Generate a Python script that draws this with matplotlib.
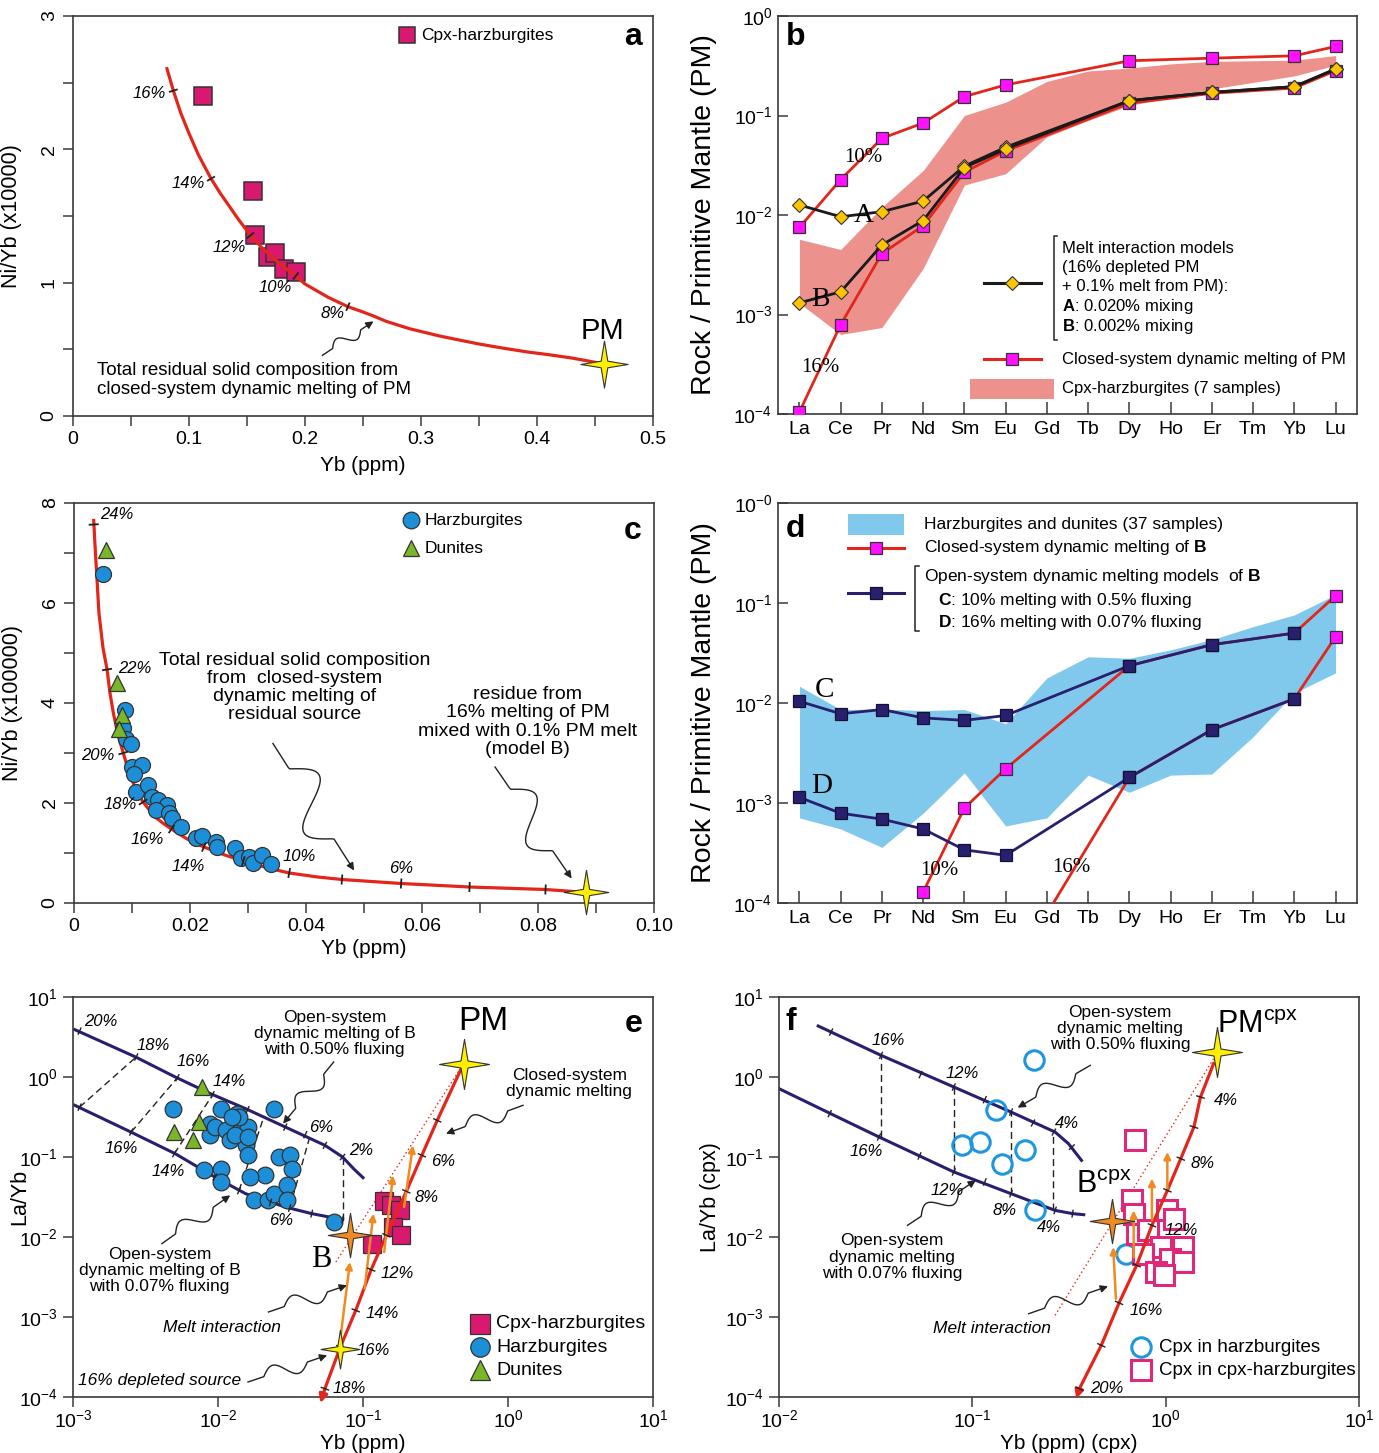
import numpy as np
import matplotlib
matplotlib.use('Agg')
import matplotlib.pyplot as plt
from matplotlib.patches import Rectangle

plt.rcParams['font.family'] = ['Liberation Sans', 'DejaVu Sans']
plt.rcParams['mathtext.fontset'] = 'custom'
plt.rcParams['mathtext.rm'] = 'Liberation Sans'
plt.rcParams['mathtext.it'] = 'Liberation Sans:italic'
plt.rcParams['mathtext.bf'] = 'Liberation Sans:bold'
SERIF = ['Liberation Serif', 'DejaVu Serif']

# ---------------- data ----------------
# panel a : Ni/Yb (x10000) vs Yb
a_curve_yb = [0.081, 0.0865, 0.093, 0.10, 0.108, 0.119, 0.127, 0.135, 0.143, 0.153, 0.162, 0.17, 0.18, 0.192,
              0.20, 0.21, 0.22, 0.237, 0.25, 0.259, 0.27, 0.29, 0.316, 0.33, 0.35, 0.37, 0.392, 0.41, 0.43, 0.458]
a_curve_niyb = [2.605, 2.44, 2.27, 2.12, 1.96, 1.78, 1.67, 1.57, 1.47, 1.355, 1.27, 1.205, 1.13, 1.05,
                0.99, 0.94, 0.89, 0.82, 0.78, 0.75, 0.71, 0.655, 0.60, 0.575, 0.54, 0.51, 0.48, 0.46, 0.435, 0.39]
a_tick_yb = [0.0865, 0.119, 0.153, 0.192, 0.237]
a_tick_niyb = [2.44, 1.78, 1.355, 1.05, 0.82]
a_tick_lab = ['16%', '14%', '12%', '10%', '8%']
a_lab_yb = [0.066, 0.099, 0.135, 0.174, 0.224]
a_lab_niyb = [2.42, 1.74, 1.26, 0.96, 0.77]
a_cpx_yb = [0.112, 0.155, 0.157, 0.168, 0.174, 0.182, 0.192]
a_cpx_niyb = [2.40, 1.69, 1.355, 1.19, 1.225, 1.105, 1.08]
a_pm = (0.458, 0.39)

# panel b : REE patterns
REE = ['La', 'Ce', 'Pr', 'Nd', 'Sm', 'Eu', 'Gd', 'Tb', 'Dy', 'Ho', 'Er', 'Tm', 'Yb', 'Lu']
b_elems = ['La', 'Ce', 'Pr', 'Nd', 'Sm', 'Eu', 'Dy', 'Er', 'Yb', 'Lu']
b_closed10 = [7.5e-3, 2.27e-2, 5.9e-2, 8.4e-2, 0.155, 0.203, 0.355, 0.377, 0.398, 0.494]
b_closed16 = [1.05e-4, 7.9e-4, 4.1e-3, 7.8e-3, 2.7e-2, 4.4e-2, 0.133, 0.167, 0.189, 0.282]
b_modelA = [1.26e-2, 9.6e-3, 1.08e-2, 1.38e-2, 3.1e-2, 4.8e-2, 0.141, 0.171, 0.195, 0.293]
b_modelB = [1.31e-3, 1.69e-3, 5.0e-3, 8.8e-3, 3.0e-2, 4.6e-2, 0.141, 0.171, 0.195, 0.293]
b_band_hi = [5.7e-3, 4.5e-3, 1.2e-2, 2.8e-2, 0.10, 0.136, 0.22, 0.28, 0.30, 0.33, 0.35, 0.355, 0.36, 0.40]
b_band_lo = [1.3e-3, 6.3e-4, 7.4e-4, 2.9e-3, 2.0e-2, 2.6e-2, 6.1e-2, 8.9e-2, 0.126, 0.152, 0.185, 0.215, 0.25, 0.32]

# panel c : Ni/Yb (x100000) vs Yb
c_curve_yb = [0.0034, 0.0036, 0.0039, 0.0043, 0.0050, 0.0057, 0.0062, 0.0068, 0.0076, 0.0085, 0.0092, 0.010,
              0.0109, 0.0119, 0.013, 0.014, 0.0153, 0.0168, 0.0195, 0.0224, 0.026, 0.0297, 0.0335, 0.0371,
              0.042, 0.0462, 0.0564, 0.0682, 0.0813, 0.0885]
c_curve_niyb = [7.65, 7.2, 6.6, 5.8, 5.1, 4.67, 4.2, 3.79, 3.35, 3.0, 2.72, 2.46, 2.22, 2.02, 1.86, 1.72,
                1.60, 1.48, 1.28, 1.12, 0.96, 0.82, 0.70, 0.60, 0.52, 0.47, 0.39, 0.32, 0.27, 0.21]
c_tick_yb = [0.0034, 0.0057, 0.0085, 0.0119, 0.0168, 0.0224, 0.0292, 0.0371, 0.0462, 0.0564, 0.0682, 0.0813]
c_tick_niyb = [7.57, 4.67, 3.0, 2.02, 1.48, 1.12, 0.84, 0.60, 0.47, 0.39, 0.32, 0.27]
c_lab = ['24%', '22%', '20%', '18%', '16%', '14%', '10%', '6%']
c_lab_yb = [0.0074, 0.0104, 0.0041, 0.0079, 0.0127, 0.0197, 0.0388, 0.0564]
c_lab_niyb = [7.77, 4.69, 2.96, 1.96, 1.26, 0.73, 0.92, 0.69]
c_harz_yb = [0.00508, 0.00872, 0.00849, 0.00895, 0.00986, 0.0100, 0.01168, 0.01039, 0.01077, 0.01281, 0.01342,
             0.01456, 0.01607, 0.01418, 0.0163, 0.01683, 0.0185, 0.0210, 0.0221, 0.02456, 0.02464, 0.02782,
             0.02881, 0.0301, 0.03086, 0.03237, 0.03404]
c_harz_niyb = [6.58, 3.86, 3.49, 3.29, 3.19, 2.72, 2.76, 2.59, 2.21, 2.36, 2.12, 2.06, 1.96, 1.86, 1.79, 1.69,
               1.52, 1.29, 1.34, 1.22, 1.12, 1.09, 0.89, 0.92, 0.80, 0.95, 0.77]
c_dun_yb = [0.00546, 0.00743, 0.00826, 0.00773]
c_dun_niyb = [7.07, 4.41, 3.76, 3.47]
c_b = (0.0883, 0.21)

# panel d : REE patterns
d_band_hi = [1.47e-2, 8.6e-3, 8.7e-3, 8.4e-3, 8.6e-3, 6.2e-3, 1.78e-2, 2.9e-2, 2.8e-2, 3.4e-2, 4.3e-2, 5.8e-2, 7.6e-2, 0.121]
d_band_lo = [7.1e-4, 5.5e-4, 3.6e-4, 7.9e-4, 2.0e-3, 5.9e-4, 7.1e-4, 1.9e-3, 1.28e-3, 1.9e-3, 1.95e-3, 4.6e-3, 1.26e-2, 2.0e-2]
d_model_el = ['La', 'Ce', 'Pr', 'Nd', 'Sm', 'Eu', 'Dy', 'Er', 'Yb']
d_modelC = [1.04e-2, 7.8e-3, 8.6e-3, 7.1e-3, 6.7e-3, 7.5e-3, 2.36e-2, 3.83e-2, 5.0e-2]
d_modelD = [1.14e-3, 7.9e-4, 6.9e-4, 5.5e-4, 3.4e-4, 3.0e-4, 1.8e-3, 5.4e-3, 1.1e-2]
d_c10_el = ['Nd', 'Sm', 'Eu', 'Dy', 'Er', 'Yb', 'Lu']
d_closed10 = [1.29e-4, 8.9e-4, 2.2e-3, 2.36e-2, 3.83e-2, 5.0e-2, 0.118]
d_c16_el = ['Gd', 'Dy', 'Er', 'Yb', 'Lu']
d_closed16 = [7.8e-5, 1.8e-3, 5.4e-3, 1.1e-2, 4.6e-2]

# panel e : La/Yb vs Yb (whole rock)
e_open50_yb = [0.001028, 0.0027, 0.00507, 0.00887, 0.0155, 0.0291, 0.0546, 0.0723, 0.0861, 0.1]
e_open50_layb = [3.91, 1.78, 1.0, 0.619, 0.402, 0.237, 0.14, 0.1, 0.0714, 0.0552]
e_open07_yb = [0.001028, 0.00251, 0.00507, 0.0095, 0.0155, 0.0291, 0.0443, 0.0723]
e_open07_layb = [0.443, 0.205, 0.110, 0.0562, 0.0348, 0.0237, 0.0196, 0.0165]
e_t50_yb = [0.00111, 0.00273, 0.00525, 0.00918, 0.0160, 0.0291, 0.0400, 0.0546, 0.0723]
e_t50_layb = [3.75, 1.78, 0.98, 0.60, 0.39, 0.237, 0.19, 0.14, 0.10]
e_t07_yb = [0.00111, 0.00252, 0.0050, 0.0095, 0.01396, 0.0230, 0.0312, 0.0443, 0.0723]
e_t07_layb = [0.42, 0.205, 0.11, 0.0562, 0.038, 0.027, 0.0230, 0.0196, 0.0165]
e_dash_yb0 = [0.00111, 0.00252, 0.0050, 0.01396, 0.0312, 0.0723]
e_dash_la0 = [0.42, 0.205, 0.11, 0.038, 0.0230, 0.0165]
e_dash_yb1 = [0.00273, 0.00525, 0.00918, 0.0205, 0.0428, 0.0723]
e_dash_la1 = [1.78, 0.98, 0.60, 0.30, 0.175, 0.10]
e_closed_yb = [0.494, 0.325, 0.2547, 0.199, 0.145, 0.1138, 0.0891, 0.0698, 0.0546, 0.0509]
e_closed_layb = [1.47, 0.287, 0.105, 0.0372, 0.0105, 0.00391, 0.00121, 4.22e-4, 1.27e-4, 8.4e-5]
e_mix_yb = [0.065, 0.461]
e_mix_layb = [0.00487, 1.21]
e_arr_yb0 = [0.0698, 0.1026, 0.140, 0.192]
e_arr_la0 = [5.37e-4, 2.26e-3, 6.5e-3, 0.0237]
e_arr_yb1 = [0.0813, 0.118, 0.161, 0.221]
e_arr_la1 = [4.87e-3, 0.0196, 0.059, 0.140]
e_harz_yb = [0.00489, 0.00887, 0.00875, 0.01055, 0.0095, 0.01132, 0.01214, 0.01349, 0.01445, 0.01606, 0.01552,
             0.01606, 0.02444, 0.02619, 0.03119, 0.03233, 0.02124, 0.01664, 0.00798, 0.01055, 0.01055,
             0.01783, 0.02198, 0.02444, 0.03013, 0.03013, 0.06281, 0.01396, 0.01256, 0.0130, 0.0160]
e_harz_layb = [0.402, 0.261, 0.187, 0.402, 0.237, 0.216, 0.162, 0.348, 0.220, 0.237, 0.140, 0.105, 0.402, 0.1,
               0.105, 0.0715, 0.059, 0.0562, 0.0681, 0.0715, 0.0487, 0.0287, 0.0287, 0.0348, 0.0442, 0.0287,
               0.0154, 0.316, 0.316, 0.190, 0.178]
e_dun_yb = [0.00781, 0.00745, 0.0050, 0.0067]
e_dun_layb = [0.75, 0.274, 0.205, 0.162]
e_cpx_yb = [0.116, 0.140, 0.156, 0.179, 0.161, 0.182]
e_cpx_layb = [0.0081, 0.0279, 0.0253, 0.0215, 0.0133, 0.0105]
e_pm = (0.494, 1.47)
e_b = (0.0813, 0.0105)
e_dep = (0.0698, 4.0e-4)

# panel f : La/Yb vs Yb (cpx)
f_open50_yb = [0.01595, 0.0337, 0.0802, 0.1585, 0.268, 0.314, 0.367]
f_open50_layb = [4.34, 1.866, 0.75, 0.365, 0.205, 0.147, 0.0908]
f_open07_yb = [0.01, 0.0185, 0.0329, 0.0802, 0.1585, 0.268, 0.330, 0.377]
f_open07_layb = [0.715, 0.348, 0.178, 0.065, 0.0348, 0.0215, 0.0196, 0.0190]
f_t50_yb = [0.0186, 0.0337, 0.054, 0.0802, 0.116, 0.1585, 0.206, 0.264, 0.327]
f_t50_layb = [3.65, 1.866, 1.07, 0.75, 0.521, 0.365, 0.266, 0.205, 0.133]
f_t07_yb = [0.0183, 0.0329, 0.0533, 0.0802, 0.116, 0.1585, 0.268, 0.330]
f_t07_layb = [0.348, 0.178, 0.103, 0.065, 0.0487, 0.0348, 0.0215, 0.0196]
f_dash_yb = [0.0337, 0.0802, 0.1585, 0.262]
f_dash_lo = [0.178, 0.065, 0.0348, 0.0215]
f_dash_hi = [1.866, 0.75, 0.365, 0.205]
f_closed_yb = [1.77, 1.514, 1.40, 1.197, 1.021, 0.849, 0.708, 0.574, 0.4645, 0.358, 0.345]
f_closed_layb = [1.47, 0.562, 0.237, 0.0953, 0.0383, 0.0140, 0.00443, 0.0015, 4.43e-4, 1.27e-4, 9.5e-5]
f_mix_yb = [0.268, 1.77]
f_mix_layb = [1.05e-3, 1.69]
f_arr_yb0 = [0.553, 0.683, 0.849, 1.02]
f_arr_la0 = [1.69e-3, 5.6e-3, 0.0162, 0.0402]
f_arr_yb1 = [0.535, 0.683, 0.849, 1.02]
f_arr_la1 = [7.5e-3, 0.0215, 0.0536, 0.1155]
f_harz_yb = [0.2086, 0.132, 0.0881, 0.110, 0.1875, 0.143, 0.212, 0.621]
f_harz_layb = [1.61, 0.383, 0.14, 0.154, 0.1235, 0.0825, 0.022, 0.00619]
f_cpxh_yb = [0.697, 0.672, 0.689, 1.02, 1.105, 0.708, 0.807, 0.944, 1.23, 0.766, 1.05, 1.23, 0.896, 0.984]
f_cpxh_layb = [0.161, 0.0287, 0.0196, 0.0215, 0.0169, 0.011, 0.0121, 0.0075, 0.0075, 0.00619, 0.00536,
               0.00487, 0.00365, 0.00332]
f_pm = (1.85, 2.05)
f_b = (0.529, 0.0158)

# ---------------- style ----------------
RED = '#e3261c'
PINK = '#d8196f'
BLUE = '#1d8fd8'
GREEN = '#7ab62a'
NAVY = '#28206f'
MAG = '#ff10ff'
GOLD = '#ffc400'
ORANGE = '#f08a22'
YEL = '#fff000'
EDGE = '#333333'
STAR = [(0, 1), (0.14, 0.14), (1, 0), (0.14, -0.14), (0, -1), (-0.14, -0.14), (-1, 0), (-0.14, 0.14), (0, 1)]

W, H = 1379, 1453
fig = plt.figure(figsize=(W / 100, H / 100), dpi=100)


def panel(l, t, r, b):
    return fig.add_axes([l / W, 1 - b / H, (r - l) / W, (b - t) / H])


def style(ax, direction='out'):
    for s in ax.spines.values():
        s.set_color('#3a3a3a')
        s.set_linewidth(1.2)
    ax.tick_params(which='both', direction=direction, length=7, width=1.1, color='#3a3a3a', labelsize=14, pad=4)


def curve_ticks(ax, cx, cy, tx, ty, size=9, lw=1.3):
    P = ax.transData.transform(np.column_stack([cx, cy]))
    inv = ax.transData.inverted()
    for x, y in zip(tx, ty):
        p = ax.transData.transform((x, y))
        i = int(np.argmin(np.hypot(*(P - p).T)))
        v = P[min(i + 1, len(P) - 1)] - P[max(i - 1, 0)]
        v = v / np.hypot(*v)
        n = np.array([-v[1], v[0]]) * size / 2
        seg = inv.transform([p - n, p + n])
        ax.plot(seg[:, 0], seg[:, 1], color='#222222', lw=lw, zorder=6, solid_capstyle='butt')


def squiggle(ax, start, end, amp=9, lw=1.0):
    p0 = ax.transData.transform(start)
    p1 = ax.transData.transform(end)
    d = p1 - p0
    u = d / np.hypot(*d)
    n = np.array([-u[1], u[0]])
    t = np.linspace(0, 1, 90)
    env = np.clip((t - 0.2) / 0.55, 0, 1)
    off = amp * np.sin(2 * np.pi * env)
    pts = p0[None, :] + t[:, None] * d[None, :] + off[:, None] * n[None, :]
    dat = ax.transData.inverted().transform(pts)
    ax.plot(dat[:-4, 0], dat[:-4, 1], color='#222222', lw=lw, clip_on=False, zorder=7)
    ax.annotate('', xy=dat[-1], xytext=dat[-5], annotation_clip=False, zorder=7,
                arrowprops=dict(arrowstyle='-|>', color='#222222', lw=lw, mutation_scale=11, shrinkA=0, shrinkB=0))


def log_labels(ax, lo, hi, axis='y', top_zero=False):
    vals = [10.0 ** k for k in range(lo, hi + 1)]
    labs = [r'$10^{%d}$' % k for k in range(lo, hi + 1)]
    if top_zero:
        labs[-1] = r'$10^{-0}$'
    if axis == 'y':
        ax.set_yticks(vals)
        ax.set_yticklabels(labs)
        ax.yaxis.set_minor_locator(plt.NullLocator())
    else:
        ax.set_xticks(vals)
        ax.set_xticklabels(labs)
        ax.xaxis.set_minor_locator(plt.NullLocator())


def pct(ax, x, y, s, size=12, ha='center'):
    ax.text(x, y, s, fontsize=size, style='italic', ha=ha, va='center', zorder=8)


def letter(ax, x, y, s):
    ax.text(x, y, s, transform=ax.transAxes, fontsize=23, fontweight='bold', ha='center', va='center')


# ================= panel a =================
axA = panel(73, 16, 653, 416)
style(axA)
axA.set_xlim(0, 0.5)
axA.set_ylim(0, 3)
axA.set_xticks([0, 0.1, 0.2, 0.3, 0.4, 0.5])
axA.set_xticklabels(['0', '0.1', '0.2', '0.3', '0.4', '0.5'])
axA.set_xticks([0.05, 0.15, 0.25, 0.35, 0.45], minor=True)
axA.set_yticks([0, 1, 2, 3])
axA.set_yticks([0.5, 1.5, 2.5], minor=True)
for lab in axA.get_yticklabels():
    lab.set_rotation(90)
    lab.set_va('center')
axA.set_xlabel('Yb (ppm)', fontsize=15)
axA.xaxis.set_label_coords(0.5, -0.1)
axA.set_ylabel('Ni/Yb (x10000)', fontsize=15.5)
axA.yaxis.set_label_coords(-0.088, 0.5)
axA.plot(a_cpx_yb, a_cpx_niyb, 's', ms=13, mfc=PINK, mec=EDGE, mew=1.1, zorder=3)
axA.plot(a_curve_yb, a_curve_niyb, color=RED, lw=2.3, zorder=4)
curve_ticks(axA, a_curve_yb, a_curve_niyb, a_tick_yb, a_tick_niyb)
for x, y, s in zip(a_lab_yb, a_lab_niyb, a_tick_lab):
    pct(axA, x, y, s)
axA.plot(*a_pm, marker=STAR, ms=34, mfc=YEL, mec=EDGE, mew=0.8, zorder=5)
axA.text(0.456, 0.64, 'PM', fontsize=21, ha='center', va='center')
axA.text(0.021, 0.27, 'Total residual solid composition from\nclosed-system dynamic melting of PM',
         fontsize=13.5, ha='left', va='center', linespacing=1.15)
squiggle(axA, (0.215, 0.455), (0.259, 0.71), amp=6)
axA.plot([0.575], [0.952], 's', transform=axA.transAxes, ms=12, mfc=PINK, mec=EDGE, mew=1.1)
axA.text(0.600, 0.952, 'Cpx-harzburgites', transform=axA.transAxes, fontsize=12.5, va='center')
letter(axA, 0.966, 0.948, 'a')

# ================= panel b =================
axB = panel(778, 16, 1357, 414)
style(axB, 'in')
axB.set_yscale('log')
axB.set_ylim(1e-4, 1)
axB.set_xlim(-0.52, 13.52)
axB.set_xticks(range(len(REE)))
axB.set_xticklabels(REE)
log_labels(axB, -4, 0)
axB.tick_params(axis='x', length=9, pad=5, labelsize=14)
axB.set_ylabel('Rock / Primitive Mantle (PM)', fontsize=20.5)
axB.yaxis.set_label_coords(-0.105, 0.5)
xb = [REE.index(e) for e in b_elems]
axB.fill_between(range(len(REE)), b_band_lo, b_band_hi, color='#ec918c', lw=0, zorder=1)
for vals in (b_closed10, b_closed16):
    axB.plot(xb, vals, color=RED, lw=2, marker='s', ms=9, mfc=MAG, mec=EDGE, mew=0.9, zorder=3)
for vals in (b_modelA, b_modelB):
    axB.plot(xb, vals, color='#1a1a1a', lw=2, marker='D', ms=7, mfc=GOLD, mec=EDGE, mew=0.8, zorder=4)
axB.text(1.56, 10 ** -1.42, '10%', family=SERIF, fontsize=15, ha='center', va='center')
axB.text(0.5, 10 ** -3.53, '16%', family=SERIF, fontsize=15, ha='center', va='center')
axB.text(1.55, 10 ** -2.0, 'A', family=SERIF, fontsize=20, ha='center', va='center', zorder=5)
axB.text(0.5, 10 ** -2.85, 'B', family=SERIF, fontsize=20, ha='center', va='center', zorder=5)
# legend
T = axB.transAxes
axB.plot([0.356, 0.455], [0.329, 0.329], color='#1a1a1a', lw=2.2, transform=T)
axB.plot([0.405], [0.329], 'D', ms=7, mfc=GOLD, mec=EDGE, mew=0.8, transform=T)
axB.plot([0.482, 0.476, 0.476, 0.482], [0.446, 0.446, 0.186, 0.186], color='#222222', lw=1.1, transform=T)
for y, s in zip([0.417, 0.369, 0.321, 0.270, 0.219],
                ['Melt interaction models', '(16% depleted PM', '+ 0.1% melt from PM):',
                 r'$\mathbf{A}$: 0.020% mixing', r'$\mathbf{B}$: 0.002% mixing']):
    axB.text(0.491, y, s, transform=T, fontsize=12, va='center')
axB.plot([0.356, 0.455], [0.1375, 0.1375], color=RED, lw=2.2, transform=T)
axB.plot([0.405], [0.1375], 's', ms=9, mfc=MAG, mec=EDGE, mew=0.9, transform=T)
axB.text(0.491, 0.1375, 'Closed-system dynamic melting of PM', transform=T, fontsize=12, va='center')
axB.add_patch(Rectangle((0.331, 0.0375), 0.146, 0.05, transform=T, color='#ec918c', lw=0))
axB.text(0.491, 0.064, 'Cpx-harzburgites (7 samples)', transform=T, fontsize=12, va='center')
letter(axB, 0.03, 0.946, 'b')

# ================= panel c =================
axC = panel(74, 503, 654, 903)
style(axC)
axC.set_xlim(0, 0.1)
axC.set_ylim(0, 8)
axC.set_xticks([0, 0.02, 0.04, 0.06, 0.08, 0.10])
axC.set_xticklabels(['0', '0.02', '0.04', '0.06', '0.08', '0.10'])
axC.set_xticks([0.01, 0.03, 0.05, 0.07, 0.09], minor=True)
axC.set_yticks([0, 2, 4, 6, 8])
axC.set_yticks([1, 3, 5, 7], minor=True)
for lab in axC.get_yticklabels():
    lab.set_rotation(90)
    lab.set_va('center')
axC.set_xlabel('Yb (ppm)', fontsize=15)
axC.xaxis.set_label_coords(0.5, -0.09)
axC.set_ylabel('Ni/Yb (x100000)', fontsize=15.5)
axC.yaxis.set_label_coords(-0.088, 0.5)
axC.plot(c_curve_yb, c_curve_niyb, color=RED, lw=2.3, zorder=2)
axC.plot(c_harz_yb, c_harz_niyb, 'o', ms=11.5, mfc=BLUE, mec=EDGE, mew=0.9, zorder=3)
axC.plot(c_dun_yb, c_dun_niyb, '^', ms=11, mfc=GREEN, mec=EDGE, mew=0.9, zorder=3)
curve_ticks(axC, c_curve_yb, c_curve_niyb, c_tick_yb, c_tick_niyb, size=10)
for x, y, s in zip(c_lab_yb, c_lab_niyb, c_lab):
    pct(axC, x, y, s)
axC.plot(*c_b, marker=STAR, ms=32, mfc=YEL, mec=EDGE, mew=0.8, zorder=5, clip_on=False)
axC.text(0.0381, 4.31, 'Total residual solid composition\nfrom  closed-system\ndynamic melting of\nresidual source',
         fontsize=14, ha='center', va='center', linespacing=1.1)
axC.text(0.0782, 3.62, 'residue from\n16% melting of PM\nmixed with 0.1% PM melt\n(model B)',
         fontsize=14, ha='center', va='center', linespacing=1.1)
squiggle(axC, (0.0343, 3.19), (0.0483, 0.65), amp=22)
squiggle(axC, (0.0726, 2.72), (0.0858, 0.49), amp=18)
T = axC.transAxes
axC.plot([0.581], [0.957], 'o', ms=12, mfc=BLUE, mec=EDGE, mew=0.9, transform=T)
axC.text(0.604, 0.957, 'Harzburgites', transform=T, fontsize=12.5, va='center')
axC.plot([0.581], [0.887], '^', ms=11, mfc=GREEN, mec=EDGE, mew=0.9, transform=T)
axC.text(0.604, 0.887, 'Dunites', transform=T, fontsize=12.5, va='center')
letter(axC, 0.964, 0.929, 'c')

# ================= panel d =================
axD = panel(778, 503, 1357, 903)
style(axD, 'in')
axD.set_yscale('log')
axD.set_ylim(1e-4, 1)
axD.set_xlim(-0.52, 13.52)
axD.set_xticks(range(len(REE)))
axD.set_xticklabels(REE)
log_labels(axD, -4, 0, top_zero=True)
axD.tick_params(axis='x', length=9, pad=5, labelsize=14)
axD.set_ylabel('Rock / Primitive Mantle (PM)', fontsize=20.5)
axD.yaxis.set_label_coords(-0.105, 0.5)
axD.fill_between(range(len(REE)), d_band_lo, d_band_hi, color='#80c8ec', lw=0, zorder=1)
axD.plot([REE.index(e) for e in d_c10_el], d_closed10, color=RED, lw=2, marker='s', ms=9,
         mfc=MAG, mec=EDGE, mew=0.9, zorder=3)
axD.plot([REE.index(e) for e in d_c16_el], d_closed16, color=RED, lw=2, marker='s', ms=9,
         mfc=MAG, mec=EDGE, mew=0.9, zorder=3)
xd = [REE.index(e) for e in d_model_el]
for vals in (d_modelC, d_modelD):
    axD.plot(xd, vals, color=NAVY, lw=2, marker='s', ms=9, mfc=NAVY, mec='#111133', mew=0.9, zorder=4)
axD.text(0.61, 10 ** -1.87, 'C', family=SERIF, fontsize=21, ha='center', va='center')
axD.text(0.53, 10 ** -2.83, 'D', family=SERIF, fontsize=21, ha='center', va='center')
axD.text(3.4, 10 ** -3.68, '10%', family=SERIF, fontsize=15, ha='center', va='center')
axD.text(6.6, 10 ** -3.65, '16%', family=SERIF, fontsize=15, ha='center', va='center')
T = axD.transAxes
axD.add_patch(Rectangle((0.121, 0.919), 0.097, 0.054, transform=T, color='#80c8ec', lw=0))
axD.text(0.252, 0.946, 'Harzburgites and dunites (37 samples)', transform=T, fontsize=12.5, va='center')
axD.plot([0.121, 0.218], [0.888, 0.888], color=RED, lw=2.2, transform=T)
axD.plot([0.1695], [0.888], 's', ms=9, mfc=MAG, mec=EDGE, mew=0.9, transform=T)
axD.text(0.252, 0.888, r'Closed-system dynamic melting of $\mathbf{B}$', transform=T, fontsize=12.5, va='center')
axD.plot([0.121, 0.218], [0.775, 0.775], color=NAVY, lw=2.2, transform=T)
axD.plot([0.1695], [0.775], 's', ms=9, mfc=NAVY, mec='#111133', mew=0.9, transform=T)
axD.plot([0.243, 0.237, 0.237, 0.243], [0.842, 0.842, 0.68, 0.68], color='#222222', lw=1.1, transform=T)
axD.text(0.252, 0.815, r'Open-system dynamic melting models  of $\mathbf{B}$', transform=T, fontsize=12.5, va='center')
axD.text(0.277, 0.757, r'$\mathbf{C}$: 10% melting with 0.5% fluxing', transform=T, fontsize=12.5, va='center')
axD.text(0.277, 0.700, r'$\mathbf{D}$: 16% melting with 0.07% fluxing', transform=T, fontsize=12.5, va='center')
letter(axD, 0.03, 0.936, 'd')

# ================= panel e =================
axE = panel(73, 997, 653, 1397)
style(axE)
axE.set_xscale('log')
axE.set_yscale('log')
axE.set_xlim(1e-3, 10)
axE.set_ylim(1e-4, 10)
log_labels(axE, -3, 1, axis='x')
log_labels(axE, -4, 1, axis='y')
axE.tick_params(axis='x', pad=2)
axE.set_xlabel('Yb (ppm)', fontsize=15)
axE.xaxis.set_label_coords(0.5, -0.092)
axE.set_ylabel('La/Yb', fontsize=15.5)
axE.yaxis.set_label_coords(-0.074, 0.5)
for x0, y0, x1, y1 in zip(e_dash_yb0, e_dash_la0, e_dash_yb1, e_dash_la1):
    axE.plot([x0, x1], [y0, y1], color='#222222', lw=1, ls=(0, (5, 3)), zorder=2)
axE.plot(e_open50_yb, e_open50_layb, color=NAVY, lw=2.2, zorder=2)
axE.plot(e_open07_yb, e_open07_layb, color=NAVY, lw=2.2, zorder=2)
curve_ticks(axE, e_open50_yb, e_open50_layb, e_t50_yb, e_t50_layb, size=8, lw=1)
curve_ticks(axE, e_open07_yb, e_open07_layb, e_t07_yb, e_t07_layb, size=8, lw=1)
axE.plot(e_harz_yb, e_harz_layb, 'o', ms=12, mfc=BLUE, mec=EDGE, mew=0.9, zorder=3)
axE.plot(e_dun_yb, e_dun_layb, '^', ms=12, mfc=GREEN, mec=EDGE, mew=0.9, zorder=3)
axE.plot(e_cpx_yb, e_cpx_layb, 's', ms=13, mfc=PINK, mec=EDGE, mew=0.9, zorder=3)
axE.plot(e_mix_yb, e_mix_layb, color=RED, lw=1, ls=(0, (1, 2)), zorder=3)
axE.plot(e_closed_yb[:-1], e_closed_layb[:-1], color=RED, lw=2.3, zorder=4)
axE.annotate('', xy=(e_closed_yb[-1], e_closed_layb[-1]), xytext=(e_closed_yb[-2], e_closed_layb[-2]),
             annotation_clip=False, zorder=4,
             arrowprops=dict(arrowstyle='-|>', color=RED, lw=2.3, mutation_scale=12, shrinkA=0, shrinkB=0))
curve_ticks(axE, e_closed_yb, e_closed_layb, e_closed_yb[1:9], e_closed_layb[1:9], size=9, lw=1)
for x0, y0, x1, y1 in zip(e_arr_yb0, e_arr_la0, e_arr_yb1, e_arr_la1):
    axE.annotate('', xy=(x1, y1), xytext=(x0, y0), zorder=5,
                 arrowprops=dict(arrowstyle='-|>', color=ORANGE, lw=1.8, mutation_scale=10, shrinkA=0, shrinkB=0))
axE.plot(*e_pm, marker=STAR, ms=36, mfc=YEL, mec=EDGE, mew=0.8, zorder=6)
axE.plot(*e_b, marker=STAR, ms=32, mfc=ORANGE, mec=EDGE, mew=0.8, zorder=6)
axE.plot(*e_dep, marker=STAR, ms=28, mfc=YEL, mec=EDGE, mew=0.8, zorder=6)
for x, y, s in [(0.00156, 4.87, '20%'), (0.00357, 2.49, '18%'), (0.0067, 1.54, '16%'), (0.0119, 0.866, '14%'),
                (0.00216, 0.127, '16%'), (0.00456, 0.065, '14%'), (0.0516, 0.237, '6%'), (0.0968, 0.119, '2%'),
                (0.0272, 0.0162, '6%'), (0.356, 0.0866, '6%'), (0.273, 0.0316, '8%'), (0.173, 0.00348, '12%'),
                (0.1355, 0.0011, '14%'), (0.1178, 3.83e-4, '16%'), (0.0802, 1.27e-4, '18%')]:
    pct(axE, x, y, s)
axE.text(0.678, 4.87, 'PM', fontsize=24, ha='center', va='center')
axE.text(0.0516, 0.00521, 'B', family=SERIF, fontsize=22, ha='center', va='center')
axE.text(0.0637, 3.47, 'Open-system\ndynamic melting of B\nwith 0.50% fluxing', fontsize=12.5,
         ha='center', va='center', linespacing=1.1)
axE.text(2.65, 0.826, 'Closed-system\ndynamic melting', fontsize=12.5, ha='center', va='center', linespacing=1.1)
axE.text(0.00396, 0.00383, 'Open-system\ndynamic melting of B\nwith 0.07% fluxing', fontsize=12.5,
         ha='center', va='center', linespacing=1.1)
axE.text(0.01057, 7.36e-4, 'Melt interaction', fontsize=12.5, style='italic', ha='center', va='center')
axE.text(0.00396, 1.62e-4, '16% depleted source', fontsize=12.5, style='italic', ha='center', va='center')
squiggle(axE, (0.0628, 1.54), (0.0281, 0.261), amp=8)
squiggle(axE, (1.27, 0.443), (0.3737, 0.196), amp=8)
squiggle(axE, (0.0041, 0.00826), (0.01214, 0.0332), amp=8)
squiggle(axE, (0.0223, 0.001155), (0.0775, 0.00249), amp=8)
squiggle(axE, (0.0161, 1.54e-4), (0.0566, 3.32e-4), amp=8)
T = axE.transAxes
axE.plot([0.702], [0.183], 's', ms=14, mfc=PINK, mec=EDGE, mew=0.9, transform=T)
axE.text(0.73, 0.183, 'Cpx-harzburgites', transform=T, fontsize=14, va='center')
axE.plot([0.702], [0.125], 'o', ms=14, mfc=BLUE, mec=EDGE, mew=0.9, transform=T)
axE.text(0.73, 0.125, 'Harzburgites', transform=T, fontsize=14, va='center')
axE.plot([0.702], [0.067], '^', ms=14, mfc=GREEN, mec=EDGE, mew=0.9, transform=T)
axE.text(0.73, 0.067, 'Dunites', transform=T, fontsize=14, va='center')
letter(axE, 0.966, 0.933, 'e')

# ================= panel f =================
axF = panel(779, 997, 1359, 1397)
style(axF)
axF.set_xscale('log')
axF.set_yscale('log')
axF.set_xlim(1e-2, 10)
axF.set_ylim(1e-4, 10)
log_labels(axF, -2, 1, axis='x')
log_labels(axF, -4, 1, axis='y')
axF.tick_params(axis='x', pad=2)
axF.set_xlabel('Yb (ppm) (cpx)', fontsize=15)
axF.xaxis.set_label_coords(0.5, -0.092)
axF.set_ylabel('La/Yb (cpx)', fontsize=15.5)
axF.yaxis.set_label_coords(-0.1, 0.5)
for x, lo, hi in zip(f_dash_yb, f_dash_lo, f_dash_hi):
    axF.plot([x, x], [lo, hi], color='#222222', lw=1, ls=(0, (5, 3)), zorder=2)
axF.plot(f_open50_yb, f_open50_layb, color=NAVY, lw=2.2, zorder=2)
axF.plot(f_open07_yb, f_open07_layb, color=NAVY, lw=2.2, zorder=2)
curve_ticks(axF, f_open50_yb, f_open50_layb, f_t50_yb, f_t50_layb, size=8, lw=1)
curve_ticks(axF, f_open07_yb, f_open07_layb, f_t07_yb, f_t07_layb, size=8, lw=1)
axF.plot(f_mix_yb, f_mix_layb, color=RED, lw=1, ls=(0, (1, 2)), zorder=3)
axF.plot(f_harz_yb, f_harz_layb, 'o', ms=14, mfc='none', mec='#1f96de', mew=2.2, zorder=3)
axF.plot(f_cpxh_yb, f_cpxh_layb, 's', ms=14, mfc='white', mec='#e0287a', mew=2.2, zorder=3)
axF.plot(f_closed_yb[:-1], f_closed_layb[:-1], color=RED, lw=2.3, zorder=4)
axF.annotate('', xy=(f_closed_yb[-1], f_closed_layb[-1]), xytext=(f_closed_yb[-2], f_closed_layb[-2]),
             annotation_clip=False, zorder=4,
             arrowprops=dict(arrowstyle='-|>', color=RED, lw=2.3, mutation_scale=12, shrinkA=0, shrinkB=0))
curve_ticks(axF, f_closed_yb, f_closed_layb, f_closed_yb[1:10], f_closed_layb[1:10], size=9, lw=1)
for x0, y0, x1, y1 in zip(f_arr_yb0, f_arr_la0, f_arr_yb1, f_arr_la1):
    axF.annotate('', xy=(x1, y1), xytext=(x0, y0), zorder=5,
                 arrowprops=dict(arrowstyle='-|>', color=ORANGE, lw=1.8, mutation_scale=10, shrinkA=0, shrinkB=0))
axF.plot(*f_pm, marker=STAR, ms=36, mfc=YEL, mec=EDGE, mew=0.8, zorder=6)
axF.plot(*f_b, marker=STAR, ms=32, mfc=ORANGE, mec=EDGE, mew=0.8, zorder=6)
for x, y, s in [(0.0366, 2.87, '16%'), (0.0881, 1.12, '12%'), (0.309, 0.261, '4%'), (0.0281, 0.1155, '16%'),
                (0.0741, 0.0383, '12%'), (0.1466, 0.0215, '8%'), (0.248, 0.0133, '4%'), (2.05, 0.51, '4%'),
                (1.552, 0.0826, '8%'), (1.197, 0.0121, '12%'), (0.794, 0.00121, '16%'), (0.498, 1.27e-4, '20%')]:
    pct(axF, x, y, s)
axF.text(2.99, 4.43, r'PM$^{\mathrm{cpx}}$', fontsize=22, ha='center', va='center')
axF.text(0.4775, 0.0442, r'B$^{\mathrm{cpx}}$', fontsize=22, ha='center', va='center')
axF.text(0.582, 4.02, 'Open-system\ndynamic melting\nwith 0.50% fluxing', fontsize=12.5,
         ha='center', va='center', linespacing=1.1)
axF.text(0.0385, 0.00562, 'Open-system\ndynamic melting\nwith 0.07% fluxing', fontsize=12.5,
         ha='center', va='center', linespacing=1.1)
axF.text(0.127, 7.14e-4, 'Melt interaction', fontsize=12.5, style='italic', ha='center', va='center')
squiggle(axF, (0.4077, 1.40), (0.1716, 0.414), amp=8)
squiggle(axF, (0.0462, 0.014), (0.1043, 0.0511), amp=8)
squiggle(axF, (0.1957, 0.0011), (0.503, 0.00242), amp=8)
T = axF.transAxes
axF.plot([0.624], [0.125], 'o', ms=14, mfc='none', mec='#1f96de', mew=2.2, transform=T)
axF.text(0.655, 0.125, 'Cpx in harzburgites', transform=T, fontsize=13.5, va='center')
axF.plot([0.624], [0.067], 's', ms=14, mfc='white', mec='#e0287a', mew=2.2, transform=T)
axF.text(0.655, 0.067, 'Cpx in cpx-harzburgites', transform=T, fontsize=13.5, va='center')
letter(axF, 0.02, 0.9375, 'f')

fig.savefig('out.png', dpi=100)
